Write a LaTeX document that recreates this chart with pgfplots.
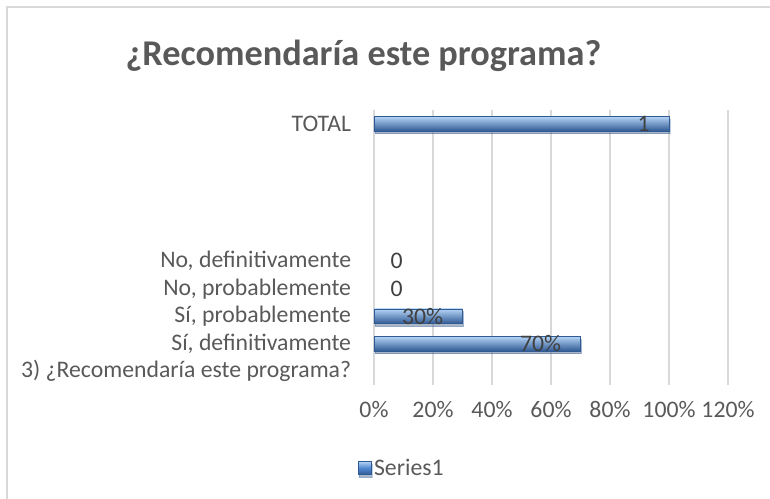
\documentclass[border=0pt]{standalone}
\usepackage{pgfplots}
\pgfplotsset{compat=1.18}
\usetikzlibrary{shadows}
\usepackage{fontspec}
\setmainfont{Carlito}
\definecolor{txt}{HTML}{595959}
\definecolor{lbl}{HTML}{404040}
\definecolor{gridc}{HTML}{D9D9D9}
\definecolor{barmid}{HTML}{4F86CF}
\definecolor{bartop}{HTML}{B5D3F5}
\definecolor{barbot}{HTML}{2F5A94}

\pgfplotsset{bevel/.style={draw=barbot,line width=0.4pt,
  top color=bartop,middle color=barmid,bottom color=barbot,
  drop shadow={opacity=0.3,shadow xshift=0.6pt,shadow yshift=-2pt},
  nodes near coords,point meta=explicit symbolic,
  nodes near coords style={anchor=east,xshift=-11pt,text=lbl,font=\fontsize{17.8}{20}\selectfont}}}

\begin{document}
\begin{tikzpicture}[x=0.75pt,y=0.75pt]
\useasboundingbox (-374,-114) rectangle (396,385);
\draw[gridc,line width=1.1pt] (-367,-114) -- (-367,378) -- (396,378);
\node[anchor=base,text=txt,font=\fontsize{27.2}{31}\selectfont\bfseries] at (-10.5,319) {¿Recomendaría este programa?};
\begin{axis}[
  at={(0,0)},anchor=south west,
  scale only axis,width=265.5pt,height=206.25pt,
  xbar,bar width=11pt,bar shift=0pt,
  xmin=0,xmax=1.2,ymin=-0.5,ymax=9.5,
  xtick={0,0.2,0.4,0.6,0.8,1.0,1.2},
  xticklabels={0\%,20\%,40\%,60\%,80\%,100\%,120\%},
  ytick={0,1,2,3,4,9},
  yticklabels={3) ¿Recomendaría este programa?,{Sí, definitivamente\ },{Sí, probablemente},{No, probablemente},{No, definitivamente},TOTAL},
  major tick length=0pt,
  axis line style={draw=none},
  xmajorgrids,major grid style={gridc,line width=1.1pt},
  tick label style={font=\fontsize{17.8}{20}\selectfont,text=txt},
  yticklabel style={inner sep=0pt,xshift=-17pt},
  xticklabel style={inner sep=0pt,yshift=-12pt},
  legend style={draw=none,fill=none,at={(-0.0465,-0.302)},anchor=west,
    font=\fontsize{17.8}{20}\selectfont,text=txt,inner sep=0pt},
  legend image code/.code={\fill[top color=bartop,bottom color=barbot,middle color=barmid] (-2.3pt,-5pt) rectangle (7.5pt,5pt);},
  clip=false,
]
\addplot[bevel] coordinates {(1.0,9) [1]};
\addlegendentry{Series1}
\addplot[bevel,forget plot] coordinates {(0.3,2) [30\%]};
\addplot[bevel,forget plot] coordinates {(0.7,1) [70\%]};
\addplot[draw=none,fill=none,forget plot,
  nodes near coords,point meta=explicit symbolic,
  nodes near coords style={anchor=west,xshift=9pt,text=lbl,font=\fontsize{17.8}{20}\selectfont}]
  coordinates {(0,4) [0] (0,3) [0]};
\end{axis}
\end{tikzpicture}
\end{document}
